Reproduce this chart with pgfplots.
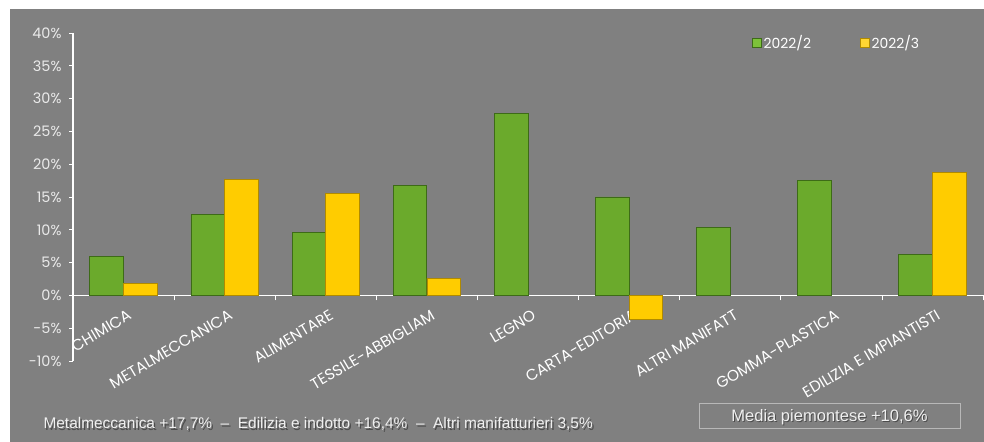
\documentclass[border=0pt]{standalone}
\usepackage{pgfplots}
\pgfplotsset{compat=1.18}
\usepackage{fontspec}
\setmainfont{Poppins}
\newfontfamily\arialf{Liberation Sans}
\definecolor{bg}{HTML}{808080}
\definecolor{barg}{HTML}{6BAA2C}
\definecolor{bargl}{HTML}{7DC23A}
\definecolor{bargd}{HTML}{3D6B17}
\definecolor{bary}{HTML}{FFCC00}
\definecolor{baryl}{HTML}{FFD633}
\definecolor{baryd}{HTML}{B08A00}
\definecolor{lbl}{HTML}{EAEAEA}
\begin{document}
\begin{tikzpicture}[x=1bp,y=1bp]
\fill[white] (0,0) rectangle (984,442);
\fill[bg] (10,0) rectangle (984,433);
\begin{axis}[
  at={(73bp,81bp)}, anchor=south west,
  scale only axis, width=910bp, height=328bp,
  xmin=0, xmax=9, ymin=-10, ymax=40,
  axis x line=middle, axis y line=left,
  x axis line style={-, white, line width=1.2bp},
  y axis line style={-, white, line width=1.2bp},
  tick align=outside,
  xtick={0.5,1.5,...,8.5},
  xticklabels={CHIMICA,METALMECCANICA,ALIMENTARE,TESSILE-ABBIGLIAM,LEGNO,CARTA-EDITORIA,ALTRI MANIFATT,GOMMA-PLASTICA,EDILIZIA E IMPIANTISTI},
  minor xtick={1,2,...,9},
  major x tick style={draw=none},
  minor x tick style={white, line width=0.8bp},
  minor tick length=5bp,
  xticklabel style={rotate=30.5, anchor=north east, text=white, font=\fontsize{15.5}{15.5}\selectfont, inner sep=1bp, yshift=-9bp, xshift=-1bp},
  ytick={-10,-5,...,40},
  yticklabels={-10\%,-5\%,0\%,5\%,10\%,15\%,20\%,25\%,30\%,35\%,40\%},
  yticklabel style={text=lbl, font=\fontsize{14.5}{14.5}\selectfont, xshift=-4bp},
  y tick style={white, line width=0.8bp},
  major tick length=4bp,
  legend style={at={(0.746,0.9695)}, anchor=west, draw=none, fill=none, text=white,
    font=\fontsize{14}{14}\selectfont, inner sep=0pt,
    /tikz/every even column/.append style={column sep=47bp}},
  legend columns=2,
  clip=false,
]
\addplot[ybar, bar width=0.333, bar shift=-0.1667, fill=barg, draw=bargd, line width=0.8bp,
  legend image code/.code={\draw[draw=bargd,fill=bargl,line width=0.5bp] (0bp,-4.5bp) rectangle (9bp,4.5bp);}]
  coordinates {(0.5,5.9) (1.5,12.3) (2.5,9.6) (3.5,16.8) (4.5,27.8) (5.5,15.0) (6.5,10.3) (7.5,17.5) (8.5,6.25)};
\addlegendentry{2022/2}
\addplot[ybar, bar width=0.333, bar shift=0.1667, fill=bary, draw=baryd, line width=0.8bp,
  legend image code/.code={\draw[draw=baryd,fill=baryl,line width=0.5bp] (0bp,-4.5bp) rectangle (9bp,4.5bp);}]
  coordinates {(0.5,1.8) (1.5,17.7) (2.5,15.5) (3.5,2.6) (5.5,-3.7) (8.5,18.75)};
\addlegendentry{2022/3}
\end{axis}
\node[anchor=base west, text=black!70, font=\arialf\fontsize{15.5}{15.5}\selectfont] at (41.5,11.5) {Metalmeccanica +17,7\%~~–~~Edilizia e indotto +16,4\%~~–~~Altri manifatturieri 3,5\%};
\node[anchor=base west, text=white!94!black, font=\arialf\fontsize{15.5}{15.5}\selectfont] at (40,13) {Metalmeccanica +17,7\%~~–~~Edilizia e indotto +16,4\%~~–~~Altri manifatturieri 3,5\%};
\draw[white!72!black, line width=1bp] (699,13) rectangle (960,38);
\node[anchor=base, text=black!70, font=\arialf\fontsize{16.6}{16.6}\selectfont] at (830.5,19) {Media piemontese +10,6\%};
\node[anchor=base, text=white!94!black, font=\arialf\fontsize{16.6}{16.6}\selectfont] at (829.5,20.5) {Media piemontese +10,6\%};
\end{tikzpicture}
\end{document}
